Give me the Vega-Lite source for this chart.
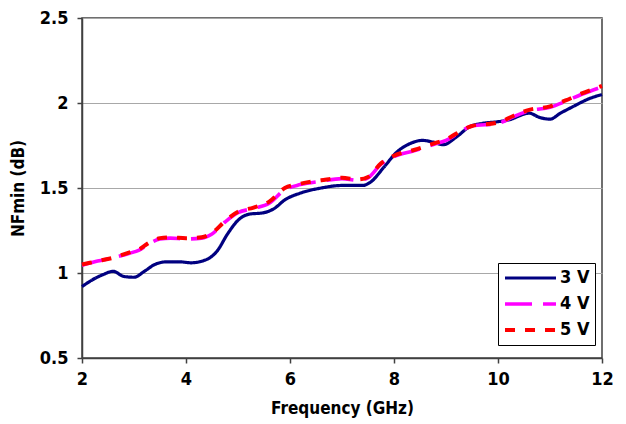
{
  "$schema": "https://vega.github.io/schema/vega-lite/v6.json",
  "width": 520,
  "height": 340,
  "autosize": {"type": "none"},
  "padding": {"left": 82, "top": 18, "right": 24, "bottom": 66},
  "background": "white",
  "config": {
    "font": "DejaVu Sans Condensed",
    "view": {"stroke": "#404040", "strokeWidth": 1.5},
    "axis": {
      "labelFont": "DejaVu Sans Condensed",
      "labelFontWeight": "bold",
      "labelFontSize": 18,
      "labelColor": "black",
      "titleFont": "DejaVu Sans Condensed",
      "titleFontWeight": "bold",
      "titleFontSize": 17,
      "titleColor": "black",
      "domainColor": "#404040",
      "domainWidth": 1.5,
      "tickColor": "#404040",
      "tickSize": 5,
      "tickWidth": 1.5
    },
    "legend": {
      "labelFont": "DejaVu Sans Condensed",
      "labelFontWeight": "bold",
      "labelFontSize": 18,
      "labelColor": "black"
    }
  },
  "data": {
    "values": [
      {"series": "3 V", "f": 2.0, "nf": 0.92},
      {"series": "3 V", "f": 2.2, "nf": 0.96},
      {"series": "3 V", "f": 2.4, "nf": 0.99},
      {"series": "3 V", "f": 2.6, "nf": 1.01},
      {"series": "3 V", "f": 2.8, "nf": 0.98},
      {"series": "3 V", "f": 3.0, "nf": 0.975},
      {"series": "3 V", "f": 3.2, "nf": 1.01},
      {"series": "3 V", "f": 3.4, "nf": 1.05},
      {"series": "3 V", "f": 3.6, "nf": 1.065},
      {"series": "3 V", "f": 3.9, "nf": 1.065},
      {"series": "3 V", "f": 4.1, "nf": 1.06},
      {"series": "3 V", "f": 4.4, "nf": 1.08},
      {"series": "3 V", "f": 4.6, "nf": 1.13},
      {"series": "3 V", "f": 4.8, "nf": 1.23},
      {"series": "3 V", "f": 5.0, "nf": 1.31},
      {"series": "3 V", "f": 5.2, "nf": 1.345},
      {"series": "3 V", "f": 5.5, "nf": 1.355},
      {"series": "3 V", "f": 5.7, "nf": 1.38},
      {"series": "3 V", "f": 5.9, "nf": 1.43},
      {"series": "3 V", "f": 6.2, "nf": 1.47},
      {"series": "3 V", "f": 6.6, "nf": 1.5},
      {"series": "3 V", "f": 7.0, "nf": 1.515},
      {"series": "3 V", "f": 7.4, "nf": 1.515},
      {"series": "3 V", "f": 7.55, "nf": 1.535},
      {"series": "3 V", "f": 7.8, "nf": 1.62},
      {"series": "3 V", "f": 8.05, "nf": 1.71},
      {"series": "3 V", "f": 8.3, "nf": 1.76},
      {"series": "3 V", "f": 8.55, "nf": 1.78},
      {"series": "3 V", "f": 8.75, "nf": 1.77},
      {"series": "3 V", "f": 8.95, "nf": 1.755},
      {"series": "3 V", "f": 9.2, "nf": 1.8},
      {"series": "3 V", "f": 9.45, "nf": 1.86},
      {"series": "3 V", "f": 9.7, "nf": 1.88},
      {"series": "3 V", "f": 10.0, "nf": 1.89},
      {"series": "3 V", "f": 10.2, "nf": 1.9},
      {"series": "3 V", "f": 10.6, "nf": 1.94},
      {"series": "3 V", "f": 10.8, "nf": 1.915},
      {"series": "3 V", "f": 11.0, "nf": 1.905},
      {"series": "3 V", "f": 11.2, "nf": 1.94},
      {"series": "3 V", "f": 11.45, "nf": 1.98},
      {"series": "3 V", "f": 11.75, "nf": 2.025},
      {"series": "3 V", "f": 12.0, "nf": 2.05},

      {"series": "4 V", "f": 2.0, "nf": 1.045},
      {"series": "4 V", "f": 2.3, "nf": 1.07},
      {"series": "4 V", "f": 2.6, "nf": 1.09},
      {"series": "4 V", "f": 2.9, "nf": 1.115},
      {"series": "4 V", "f": 3.1, "nf": 1.135},
      {"series": "4 V", "f": 3.3, "nf": 1.175},
      {"series": "4 V", "f": 3.5, "nf": 1.2},
      {"series": "4 V", "f": 3.7, "nf": 1.205},
      {"series": "4 V", "f": 4.0, "nf": 1.2},
      {"series": "4 V", "f": 4.3, "nf": 1.205},
      {"series": "4 V", "f": 4.5, "nf": 1.23},
      {"series": "4 V", "f": 4.75, "nf": 1.3},
      {"series": "4 V", "f": 5.0, "nf": 1.355},
      {"series": "4 V", "f": 5.3, "nf": 1.38},
      {"series": "4 V", "f": 5.6, "nf": 1.41},
      {"series": "4 V", "f": 5.9, "nf": 1.49},
      {"series": "4 V", "f": 6.2, "nf": 1.52},
      {"series": "4 V", "f": 6.6, "nf": 1.54},
      {"series": "4 V", "f": 7.0, "nf": 1.555},
      {"series": "4 V", "f": 7.3, "nf": 1.545},
      {"series": "4 V", "f": 7.5, "nf": 1.56},
      {"series": "4 V", "f": 7.75, "nf": 1.64},
      {"series": "4 V", "f": 8.0, "nf": 1.685},
      {"series": "4 V", "f": 8.4, "nf": 1.72},
      {"series": "4 V", "f": 8.8, "nf": 1.76},
      {"series": "4 V", "f": 9.0, "nf": 1.78},
      {"series": "4 V", "f": 9.2, "nf": 1.815},
      {"series": "4 V", "f": 9.5, "nf": 1.865},
      {"series": "4 V", "f": 10.0, "nf": 1.88},
      {"series": "4 V", "f": 10.3, "nf": 1.92},
      {"series": "4 V", "f": 10.6, "nf": 1.955},
      {"series": "4 V", "f": 11.0, "nf": 1.975},
      {"series": "4 V", "f": 11.3, "nf": 2.01},
      {"series": "4 V", "f": 11.6, "nf": 2.05},
      {"series": "4 V", "f": 12.0, "nf": 2.095},

      {"series": "5 V", "f": 2.0, "nf": 1.05},
      {"series": "5 V", "f": 2.3, "nf": 1.07},
      {"series": "5 V", "f": 2.6, "nf": 1.09},
      {"series": "5 V", "f": 2.9, "nf": 1.12},
      {"series": "5 V", "f": 3.1, "nf": 1.14},
      {"series": "5 V", "f": 3.3, "nf": 1.18},
      {"series": "5 V", "f": 3.5, "nf": 1.205},
      {"series": "5 V", "f": 3.7, "nf": 1.21},
      {"series": "5 V", "f": 4.0, "nf": 1.205},
      {"series": "5 V", "f": 4.3, "nf": 1.21},
      {"series": "5 V", "f": 4.5, "nf": 1.235},
      {"series": "5 V", "f": 4.75, "nf": 1.305},
      {"series": "5 V", "f": 5.0, "nf": 1.36},
      {"series": "5 V", "f": 5.3, "nf": 1.385},
      {"series": "5 V", "f": 5.6, "nf": 1.42},
      {"series": "5 V", "f": 5.9, "nf": 1.5},
      {"series": "5 V", "f": 6.2, "nf": 1.525},
      {"series": "5 V", "f": 6.6, "nf": 1.545},
      {"series": "5 V", "f": 7.0, "nf": 1.56},
      {"series": "5 V", "f": 7.3, "nf": 1.55},
      {"series": "5 V", "f": 7.5, "nf": 1.565},
      {"series": "5 V", "f": 7.75, "nf": 1.645},
      {"series": "5 V", "f": 8.0, "nf": 1.69},
      {"series": "5 V", "f": 8.4, "nf": 1.725},
      {"series": "5 V", "f": 8.8, "nf": 1.765},
      {"series": "5 V", "f": 9.0, "nf": 1.785},
      {"series": "5 V", "f": 9.2, "nf": 1.82},
      {"series": "5 V", "f": 9.5, "nf": 1.865},
      {"series": "5 V", "f": 10.0, "nf": 1.885},
      {"series": "5 V", "f": 10.3, "nf": 1.925},
      {"series": "5 V", "f": 10.6, "nf": 1.96},
      {"series": "5 V", "f": 11.0, "nf": 1.98},
      {"series": "5 V", "f": 11.3, "nf": 2.015},
      {"series": "5 V", "f": 11.6, "nf": 2.055},
      {"series": "5 V", "f": 12.0, "nf": 2.1}
    ]
  },
  "mark": {"type": "line", "interpolate": "monotone", "strokeCap": "butt"},
  "encoding": {
    "x": {
      "field": "f",
      "type": "quantitative",
      "title": "Frequency (GHz)",
      "scale": {"domain": [2, 12], "nice": false},
      "axis": {"values": [2, 4, 6, 8, 10, 12], "grid": false, "labelPadding": 7, "titlePadding": 12, "labelFlush": false}
    },
    "y": {
      "field": "nf",
      "type": "quantitative",
      "title": "NFmin (dB)",
      "scale": {"domain": [0.5, 2.5], "nice": false},
      "axis": {"values": [0.5, 1, 1.5, 2, 2.5], "format": "~g", "grid": true, "gridColor": "#a8a8a8", "gridWidth": 1, "labelPadding": 9, "titlePadding": 12, "labelFlush": false}
    },
    "color": {
      "field": "series",
      "type": "nominal",
      "title": null,
      "scale": {"domain": ["3 V", "4 V", "5 V"], "range": ["#000080", "#ff00ff", "#ff0000"]},
      "legend": {
        "orient": "none",
        "legendX": 416,
        "legendY": 245,
        "symbolType": "stroke",
        "symbolSize": 2600,
        "clipHeight": 20,
        "strokeColor": "black",
        "fillColor": "white",
        "padding": 5,
        "rowPadding": 6,
        "labelOffset": 2
      }
    },
    "strokeDash": {
      "field": "series",
      "type": "nominal",
      "title": null,
      "scale": {"domain": ["3 V", "4 V", "5 V"], "range": [[1, 0], [27, 11], [10, 10]]}
    },
    "strokeWidth": {
      "field": "series",
      "type": "nominal",
      "title": null,
      "scale": {"domain": ["3 V", "4 V", "5 V"], "range": [3.2, 4, 4.5]}
    },
    "order": {"field": "series"}
  }
}
